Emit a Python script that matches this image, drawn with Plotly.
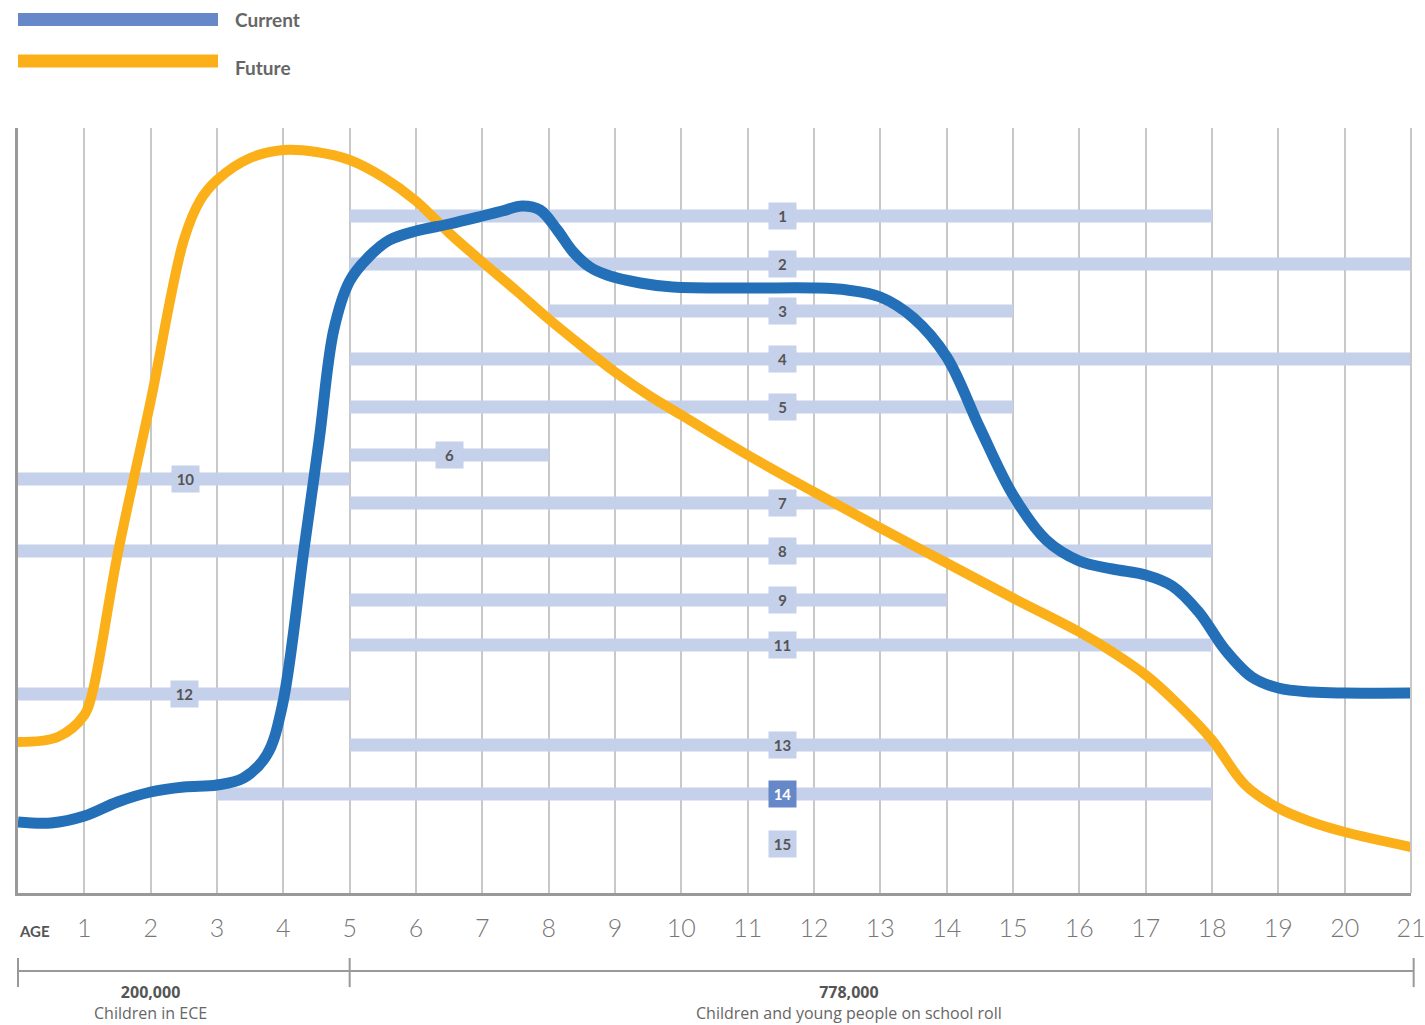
import plotly.graph_objects as go

# ---------------- data ----------------
ages_ticks = list(range(1, 22))

current_age = [0, 0.5, 1.0, 1.5, 2.0, 2.5, 3.0, 3.4, 3.75, 3.98, 4.31, 4.54, 4.76, 5.0, 5.3, 5.6,
               6.0, 6.5, 7.0, 7.3, 7.6, 7.87, 8.13, 8.37, 8.62, 8.88, 9.38, 9.87, 11, 12, 12.5,
               13.0, 13.5, 14.0, 14.5, 15.0, 15.5, 16.0, 16.5, 17.0, 17.4, 17.8, 18.2, 18.6,
               19.0, 19.5, 20, 21]
current_val = [71, 70, 77, 91, 101, 106, 108, 115, 138, 186, 343, 453, 563, 612, 637, 653,
               662, 669, 677, 682, 687, 683, 663, 641, 626, 618, 610, 606, 605, 605, 603,
               596, 575, 536, 465, 398, 353, 332, 324, 318, 307, 281, 243, 216,
               205, 201, 200, 200]

future_age = [0, 0.6, 1.0, 1.12, 1.5, 2.0, 2.5, 2.75, 3.0, 3.5, 4.0, 4.5,
              5.0, 5.5, 6.0, 6.5, 7.0, 7.5, 8.0, 8.5, 9.0, 9.5, 10.0, 11.0, 12.0, 13.0, 14.0,
              15.0, 16.0, 16.5, 17.0, 17.5, 18.0, 18.5, 19.0, 19.5, 20.0, 21.0]
future_val = [151, 156, 178, 200, 338, 492, 653, 693, 713, 735, 743, 741,
              733, 716, 692, 660, 631, 603, 574, 547, 521, 498, 478, 438, 401, 365, 330,
              295, 261, 241, 218, 188, 153, 108, 85, 71, 61, 46]

bar_labels = ["1", "2", "3", "4", "5", "6", "10", "7", "8", "9", "11", "12", "13", "14", "15"]
bar_rows   = [677, 629, 582, 534, 486, 438, 414, 390, 342, 293, 248, 199, 148, 99, 49]
bar_start  = [5, 5, 8, 5, 5, 5, 0, 5, 0, 5, 5, 0, 5, 3, None]
bar_end    = [18, 21, 15, 21, 15, 8, 5, 18, 18, 14, 18, 5, 18, 18, None]
label_x    = [11.53, 11.53, 11.53, 11.53, 11.53, 6.51, 2.53, 11.53, 11.53, 11.53, 11.53, 2.51,
              11.53, 11.53, 11.53]
highlight_label = "14"

group_numbers = ["200,000", "778,000"]
group_texts = ["Children in ECE", "Children and young people on school roll"]
group_centers = [1.99, 12.53]
group_bounds = [0, 5, 21.04]

legend_names = ["Current", "Future"]

# ---------------- styling ----------------
BLUE = "#2370b8"
ORANGE = "#fbb019"
BAR = "#c5d0ea"
LEG_BLUE = "#6688c8"
TXT = "#555555"
FONT = "Lato"
XMAX = 21.0

fig = go.Figure()

# horizontal bars
bx, bb, by = [], [], []
for s, e, r in zip(bar_start, bar_end, bar_rows):
    if s is None:
        continue
    bb.append(s)
    bx.append(e - s)
    by.append(r)
fig.add_trace(go.Bar(x=bx, base=bb, y=by, orientation="h", width=13,
                     marker=dict(color=BAR, line=dict(width=0)), hoverinfo="skip",
                     showlegend=False))

# curves
fig.add_trace(go.Scatter(x=future_age, y=future_val, mode="lines", name="Future",
                         line=dict(color=ORANGE, width=10, shape="spline", smoothing=1.0),
                         showlegend=False))
fig.add_trace(go.Scatter(x=current_age, y=current_val, mode="lines", name="Current",
                         line=dict(color=BLUE, width=11, shape="spline", smoothing=1.0),
                         showlegend=False))

annotations = []
for lab, r, lx in zip(bar_labels, bar_rows, label_x):
    hi = lab == highlight_label
    annotations.append(dict(x=lx, y=r, xref="x", yref="y", text="<b>%s</b>" % lab,
                            showarrow=False, bgcolor=LEG_BLUE if hi else BAR,
                            font=dict(family=FONT, size=15, color="white" if hi else TXT),
                            width=27, height=26, borderpad=0, align="center", valign="middle",
                            xanchor="center", yanchor="middle"))

# AGE label
annotations.append(dict(x=0.0122, y=-0.0497, xref="paper", yref="paper", text="<b>AGE</b>",
                        showarrow=False, xanchor="center", yanchor="middle",
                        font=dict(family=FONT, size=15, color=TXT)))

shapes = []
# right-hand gridline at age 21
shapes.append(dict(type="line", xref="paper", yref="paper", x0=1, x1=1, y0=0, y1=1,
                   line=dict(color="#c8c8c8", width=2)))
# group brackets (paper coordinates derived from age bounds)
gb_paper = [g / XMAX for g in group_bounds]
shapes.append(dict(type="line", xref="paper", yref="paper", x0=gb_paper[0], x1=gb_paper[-1],
                   y0=-0.102, y1=-0.102, line=dict(color="#999999", width=2)))
for gp in gb_paper:
    shapes.append(dict(type="line", xref="paper", yref="paper", x0=gp, x1=gp,
                       y0=-0.085, y1=-0.123, line=dict(color="#999999", width=2)))
for big, small, gx in zip(group_numbers, group_texts, group_centers):
    annotations.append(dict(x=gx, y=-0.1435, xref="x", yref="paper",
                            text="<b>%s</b><br><span style='color:#666666'>%s</span>" % (big, small),
                            showarrow=False, xanchor="center", yanchor="middle", align="center",
                            font=dict(family="Open Sans", size=16, color=TXT)))

# legend
leg_y = [1.1418, 1.0876]
leg_col = [LEG_BLUE, ORANGE]
leg_text_y = [1.1418, 1.0797]
for name, ly, lc, ty in zip(legend_names, leg_y, leg_col, leg_text_y):
    shapes.append(dict(type="line", xref="paper", yref="paper", x0=0, x1=0.1436, y0=ly, y1=ly,
                       line=dict(color=lc, width=13)))
    annotations.append(dict(x=0.1543, y=ty, xref="paper", yref="paper", text="<b>%s</b>" % name,
                            showarrow=False, xanchor="left", yanchor="middle",
                            font=dict(family=FONT, size=19, color="#666666")))

fig.update_layout(
    width=1425, height=1025,
    margin=dict(l=18, r=14, t=128, b=132, autoexpand=False),
    plot_bgcolor="white", paper_bgcolor="white",
    showlegend=False, barmode="overlay",
    annotations=annotations, shapes=shapes,
    xaxis=dict(range=[0, XMAX], tickmode="array", tickvals=ages_ticks,
               ticktext=[str(a) for a in ages_ticks], showgrid=True, gridcolor="#c8c8c8",
               gridwidth=1.5, zeroline=False, showline=True, linecolor="#999999",
               linewidth=3, ticks="", ticklabelstandoff=11, ticklabeloverflow="allow",
               automargin=False,
               tickfont=dict(family=FONT, size=25, color="#777777", weight=300), fixedrange=True),
    yaxis=dict(range=[0, 765], showgrid=False, zeroline=False, showticklabels=False,
               showline=True, linecolor="#999999", linewidth=2.5, ticks="", fixedrange=True,
               automargin=False),
)

fig.write_html("out.html", config={"displayModeBar": False},
               post_script="document.body.style.margin='0px';")
